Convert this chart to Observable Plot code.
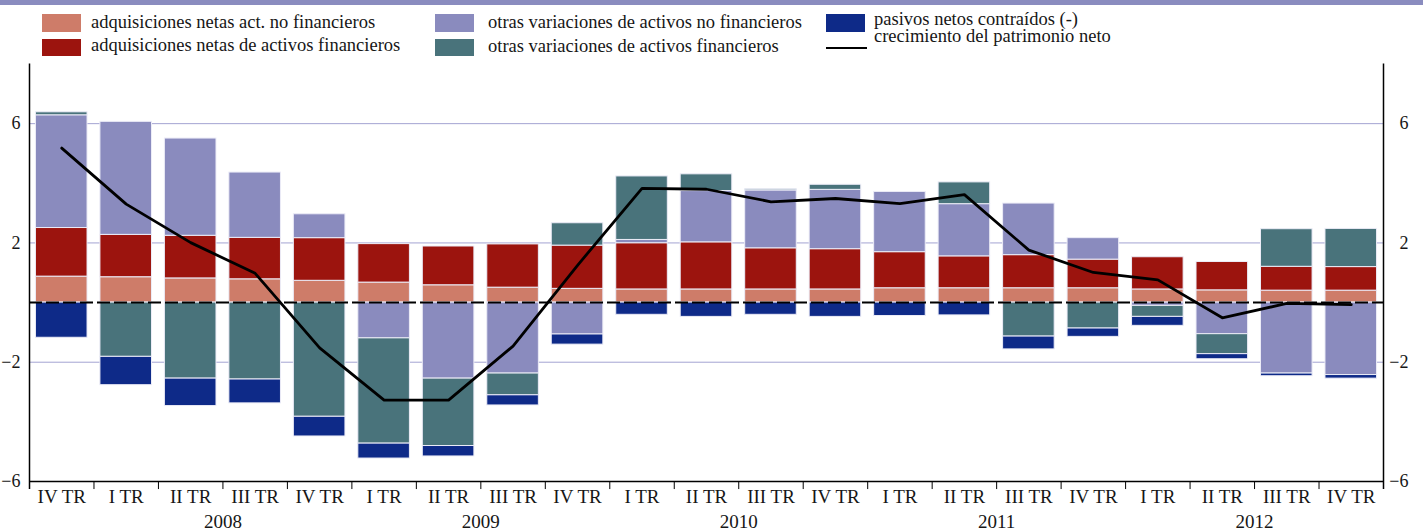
<!DOCTYPE html>
<html><head><meta charset="utf-8">
<script src="https://cdn.jsdelivr.net/npm/d3@7"></script>
<script src="https://cdn.jsdelivr.net/npm/@observablehq/plot@0.6"></script>
<style>
html,body{margin:0;padding:0;background:#fff;overflow:hidden;}
#legend{position:relative;width:1423px;height:58px;font-family:"Liberation Serif","Times New Roman",serif;font-size:18.5px;color:#161616;}
.band{position:absolute;left:0;top:0;width:1423px;height:5px;background:#8a8cbf;}
.sw{position:absolute;width:39px;height:17.5px;}
.lb{position:absolute;line-height:18.5px;white-space:nowrap;}
#chart{height:471px;}
</style></head><body>
<div id="legend"><div class="band"></div></div>
<div id="chart"></div>
<script>
// ---- data ----
const quarterLabels = ["IV TR","I TR","II TR","III TR","IV TR","I TR","II TR","III TR","IV TR","I TR","II TR","III TR","IV TR","I TR","II TR","III TR","IV TR","I TR","II TR","III TR","IV TR"];
const quarterYears = [2007,2008,2008,2008,2008,2009,2009,2009,2009,2010,2010,2010,2010,2011,2011,2011,2011,2012,2012,2012,2012];
const yearLabels = ["2008","2009","2010","2011","2012"];
const seriesNames = [
  "adquisiciones netas act. no financieros",
  "adquisiciones netas de activos financieros",
  "otras variaciones de activos no financieros",
  "otras variaciones de activos financieros",
  "pasivos netos contraídos (-)"
];
const lineName = "crecimiento del patrimonio neto";
const adqNoFin   = [0.87,0.85,0.81,0.78,0.73,0.67,0.58,0.50,0.46,0.44,0.44,0.44,0.44,0.48,0.48,0.48,0.48,0.44,0.41,0.40,0.40];
const adqFin     = [1.63,1.42,1.43,1.39,1.43,1.29,1.30,1.45,1.45,1.55,1.58,1.38,1.35,1.21,1.07,1.11,0.96,1.08,0.95,0.80,0.79];
const otrasNoFin = [3.78,3.79,3.26,2.19,0.80,-1.20,-2.55,-2.38,-1.07,0.11,1.72,1.94,1.99,2.02,1.75,1.73,0.72,-0.11,-1.06,-2.38,-2.43];
const otrasFin   = [0.10,-1.82,-2.55,-2.58,-3.83,-3.53,-2.26,-0.73,0.75,2.13,0.56,0.04,0.17,0,0.73,-1.14,-0.87,-0.37,-0.67,1.26,1.28];
const pasivos    = [-1.18,-0.95,-0.92,-0.80,-0.66,-0.50,-0.35,-0.34,-0.34,-0.41,-0.48,-0.41,-0.48,-0.45,-0.43,-0.43,-0.28,-0.30,-0.17,-0.09,-0.12];
const crecimiento = [5.18,3.30,2.01,0.98,-1.52,-3.27,-3.27,-1.46,1.25,3.83,3.80,3.38,3.49,3.32,3.62,1.76,1.01,0.76,-0.51,-0.03,-0.07];
const yTicks = [6,2,-2,-6];
const gridTicks = [6,2,-2];
const colors = ["#ce7c69","#9c140e","#8a8bbe","#49737b","#0e2a88"];

// ---- tables ----
const keys = quarterLabels.map((q,i)=>quarterYears[i]+" "+q);
const labelOf = new Map(keys.map((k,i)=>[k,quarterLabels[i]]));
const seriesValues = [adqNoFin, adqFin, otrasNoFin, otrasFin, pasivos];
const rows = [];
seriesValues.forEach((vals,s)=>vals.forEach((v,i)=>{ if (v!==0) rows.push({key:keys[i], series:seriesNames[s], value:v}); }));
const lineRows = crecimiento.map((v,i)=>({key:keys[i], value:v}));
const yearRows = yearLabels.map(y=>({year:y, key:keys[quarterYears.indexOf(+y)+1]}));

// ---- legend ----
const legend = document.getElementById("legend");
const items = [
  {s:0, x:42, sy:14.3, tx:91, ty:12.7},
  {s:1, x:42, sy:38.5, tx:91, ty:36},
  {s:2, x:435, sy:14.3, tx:488, ty:12.8},
  {s:3, x:435, sy:38.5, tx:488, ty:36.5},
  {s:4, x:826, sy:14.3, tx:874, ty:9.5}
];
for (const it of items) {
  const sw = document.createElement("div");
  sw.className="sw"; sw.style.left=it.x+"px"; sw.style.top=it.sy+"px"; sw.style.background=colors[it.s];
  legend.appendChild(sw);
  const lb = document.createElement("div");
  lb.className="lb"; lb.style.left=it.tx+"px"; lb.style.top=it.ty+"px"; lb.textContent=seriesNames[it.s];
  legend.appendChild(lb);
}
{
  const ln = document.createElement("div");
  ln.style.cssText="position:absolute;left:826px;top:46.5px;width:41px;height:2.5px;background:#000;";
  legend.appendChild(ln);
  const lb = document.createElement("div");
  lb.className="lb"; lb.style.left="874px"; lb.style.top="27px"; lb.textContent=lineName;
  legend.appendChild(lb);
}

// ---- chart ----
const W=1423, H=471, ML=29, MR=40, MT=5.5, MB=48;
const step = (W-ML-MR)/keys.length;
const chart = Plot.plot({
  width:W, height:H, marginLeft:ML, marginRight:MR, marginTop:MT, marginBottom:MB,
  style:{fontFamily:"'Liberation Serif','Times New Roman',serif", fontSize:"19px", color:"#161616", background:"#fff", overflow:"visible"},
  x:{type:"band", domain:keys, paddingInner:0.2, paddingOuter:0.1, round:false, label:null},
  y:{domain:[-6,8], label:null},
  color:{domain:seriesNames, range:colors},
  marks:[
    Plot.ruleY(gridTicks, {y:d=>d, stroke:"#a3a4d2", strokeWidth:1}),
    Plot.barY(rows, Plot.stackY({x:"key", y:"value", fill:"series", order:seriesNames, stroke:"#ececf7", strokeWidth:1})),
    Plot.ruleY([0], {y:d=>d, stroke:"#000", strokeWidth:2, strokeDasharray:"13,4"}),
    Plot.lineY(lineRows, {x:"key", y:"value", stroke:"#000", strokeWidth:2.8}),
    Plot.ruleY([-6], {y:d=>d, stroke:"#000", strokeWidth:1.5}),
    Plot.ruleX([keys[0]], {x:d=>d, dx:-step/2, y1:8, y2:-6.27, stroke:"#000", strokeWidth:1.5}),
    Plot.ruleX([keys[keys.length-1]], {x:d=>d, dx:step/2, y1:8, y2:-6.27, stroke:"#000", strokeWidth:1.5}),
    Plot.ruleX(keys.slice(1), {x:d=>d, dx:-step/2, y1:-6, y2:-6.27, stroke:"#000", strokeWidth:1}),
    Plot.axisX({tickSize:0, tickPadding:7.5, tickFormat:k=>labelOf.get(k), fontSize:19, label:null}),
    Plot.text(yearRows, {x:"key", dx:step/2, y:()=>-6, dy:46, text:"year", lineAnchor:"bottom", fontSize:19, fill:"#161616"}),
    Plot.axisY({anchor:"left", ticks:yTicks, tickSize:0, tickPadding:9, fontSize:18, label:null}),
    Plot.axisY({anchor:"right", ticks:yTicks, tickSize:0, tickPadding:25, textAnchor:"end", fontSize:18, label:null})
  ]
});
document.getElementById("chart").appendChild(chart);
</script>
</body></html>
